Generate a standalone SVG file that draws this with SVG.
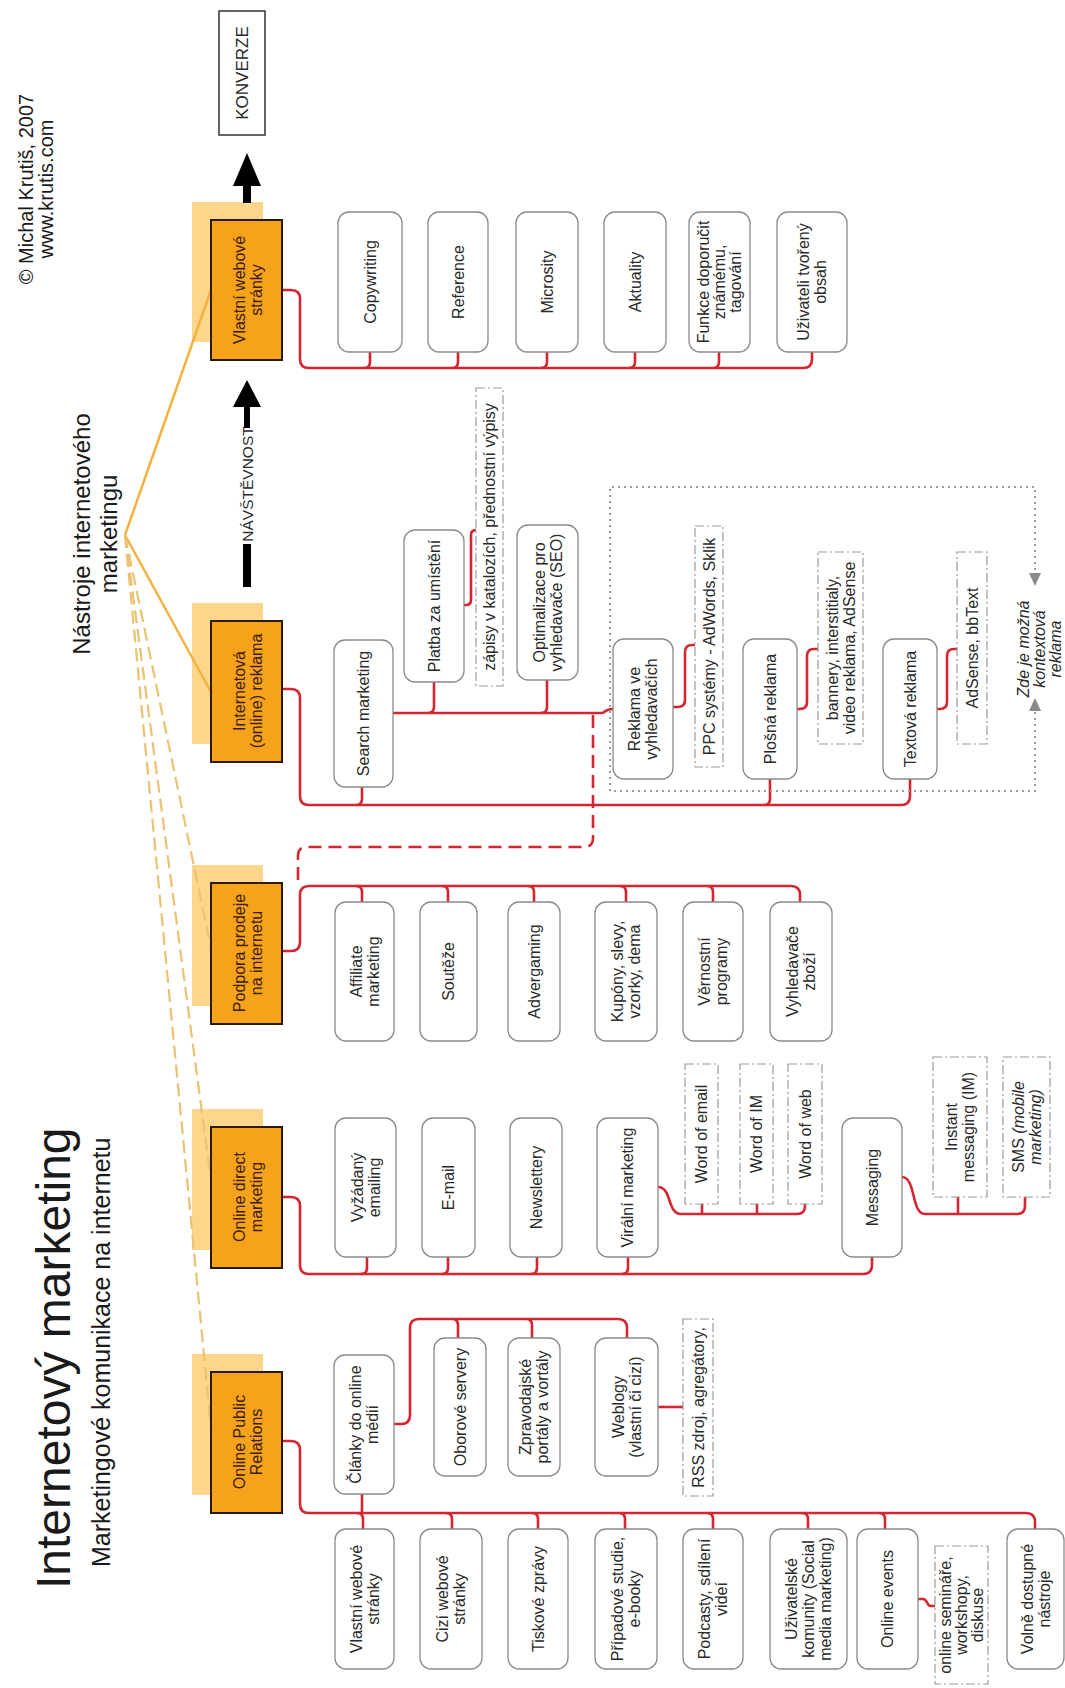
<svg xmlns="http://www.w3.org/2000/svg" width="1065" height="1688" viewBox="0 0 1065 1688">
<style>
text{font-family:"Liberation Sans",Arial,sans-serif}
.t{font-size:16px;fill:#2a2a2a;text-anchor:middle}
.to{font-size:16px;fill:#3a2000;text-anchor:middle}
.ob{fill:#F7A21B;stroke:#2a1808;stroke-width:2}
.sh{fill:#FDD68C}
.cb{fill:#fff;stroke:#8a8a8a;stroke-width:1.3}
.db{fill:#fff;stroke:#9a9a9a;stroke-width:1.2;stroke-dasharray:9 3 2 3}
.red{fill:none;stroke:#D52630;stroke-width:2.6}
.redd{fill:none;stroke:#D52630;stroke-width:2.6;stroke-dasharray:13 7}
.ol{fill:none;stroke:#F2B23E;stroke-width:2.5}
.old{fill:none;stroke:#EBC172;stroke-width:2.2;stroke-dasharray:13 6}
.dot{fill:none;stroke:#9a9a9a;stroke-width:2;stroke-dasharray:2 4}
</style>
<rect width="1065" height="1688" fill="#fff"/>

<g id="titles">
<text transform="translate(70,1589) rotate(-90)" font-size="48" fill="#1a1a1a">Internetový marketing</text>
<text transform="translate(110,1567) rotate(-90)" font-size="25" fill="#1a1a1a">Marketingové komunikace na internetu</text>
<text transform="translate(0,534) rotate(-90)" font-size="24" fill="#1a1a1a" text-anchor="middle"><tspan x="0" y="90">Nástroje internetového</tspan><tspan x="0" y="117">marketingu</tspan></text>
<text transform="translate(0,189) rotate(-90)" font-size="20" fill="#1a1a1a" text-anchor="middle"><tspan x="0" y="33">© Michal Krutiš, 2007</tspan><tspan x="0" y="53">www.krutis.com</tspan></text>
</g>

<g id="shadows">
<rect class="sh" x="192" y="202" width="71" height="140"/>
<rect class="sh" x="192" y="603" width="71" height="141"/>
<rect class="sh" x="192" y="865" width="71" height="141"/>
<rect class="sh" x="192" y="1109" width="71" height="141"/>
<rect class="sh" x="192" y="1354" width="71" height="141"/>
</g>

<g id="connectors">
<line class="ol" x1="125" y1="535" x2="211" y2="290"/>
<line class="ol" x1="125" y1="535" x2="211" y2="692"/>
<line class="old" x1="125" y1="535" x2="211" y2="948"/>
<line class="old" x1="125" y1="535" x2="210" y2="1173"/>
<line class="old" x1="125" y1="535" x2="211" y2="1428"/>

<path class="red" d="M282,290 H291 Q300,290 300,299 V359 Q300,368 309,368 H803 Q812,368 812,359 V352"/>
<path class="red" d="M370,352 V362 Q370,368 364,368 M458,352 V362 Q458,368 452,368 M547,352 V362 Q547,368 541,368 M635,352 V362 Q635,368 629,368 M719,352 V362 Q719,368 713,368"/>

<path class="red" d="M282,689 H291 Q300,689 300,698 V796 Q300,805 309,805 H901 Q910,805 910,796 V779"/>
<path class="red" d="M362,787 V799 Q362,805 356,805 M770,779 V799 Q770,805 764,805"/>
<path class="red" d="M393,713 H601 C606,713 604,709 613,709"/>
<path class="red" d="M434,682 V707 Q434,713 428,713 M547,680 V707 Q547,713 541,713"/>
<path class="red" d="M464,605 H466 Q471,605 471,600 V535 Q471,530 476,530 H478"/>
<path class="red" d="M673,707 H678 Q685,707 685,700 V652 Q685,645 692,645 H695"/>
<path class="red" d="M797,709 H800 Q807,709 807,702 V656 Q807,649 814,649 H818"/>
<path class="red" d="M937,709 H940 Q947,709 947,702 V656 Q947,649 954,649 H957"/>
<path class="redd" d="M298,880 V856 Q298,847 307,847 H584 Q593,847 593,838 V714"/>

<path class="red" d="M282,951 H291 Q300,951 300,942 V895 Q300,886 309,886 H791 Q800,886 800,895 V902"/>
<path class="red" d="M356,886 Q362,886 362,892 V902 M442,886 Q448,886 448,892 V902 M528,886 Q534,886 534,892 V902 M620,886 Q626,886 626,892 V902 M707,886 Q713,886 713,892 V902"/>

<path class="red" d="M282,1197 H291 Q300,1197 300,1206 V1265 Q300,1274 309,1274 H863 Q872,1274 872,1265 V1257"/>
<path class="red" d="M367,1257 V1268 Q367,1274 361,1274 M448,1257 V1268 Q448,1274 442,1274 M537,1257 V1268 Q537,1274 531,1274 M628,1257 V1268 Q628,1274 622,1274"/>
<path class="red" d="M658,1187 C672,1187 667,1214 681,1214 H797 Q805,1214 805,1206 V1204 M702,1204 V1214 M757,1204 V1214"/>
<path class="red" d="M902,1177 C916,1177 911,1214 925,1214 H1017 Q1025,1214 1025,1206 V1197 M958,1197 V1214"/>

<path class="red" d="M282,1441 H291 Q300,1441 300,1450 V1504 Q300,1513 309,1513 H1026 Q1035,1513 1035,1522 V1529"/>
<path class="red" d="M357,1513 Q363,1513 363,1519 V1529 M446,1513 Q452,1513 452,1519 V1529 M532,1513 Q538,1513 538,1519 V1529 M619,1513 Q625,1513 625,1519 V1529 M707,1513 Q713,1513 713,1519 V1529 M802,1513 Q808,1513 808,1519 V1529 M879,1513 Q885,1513 885,1519 V1529"/>
<path class="red" d="M362,1494 V1513"/>
<path class="red" d="M394,1424 H401 Q410,1424 410,1415 V1328 Q410,1319 419,1319 H618 Q627,1319 627,1328 V1338 M452,1319 Q458,1319 458,1325 V1338 M526,1319 Q532,1319 532,1325 V1338"/>
<path class="red" d="M658,1407 H683"/>
<path class="red" d="M918,1599 H923 C928,1599 926,1606 931,1606 H935"/>

<path class="dot" d="M1035,576 V487 H610 V791 H1035 V708"/>
<polygon points="1029,573 1041,573 1035,586" fill="#8a8a8a"/>
<polygon points="1029,711 1041,711 1035,698" fill="#8a8a8a"/>

<rect x="243" y="184" width="8" height="19" fill="#000"/>
<polygon points="233,186 261,186 247,153" fill="#000"/>
<rect x="244" y="404" width="6" height="24" fill="#000"/>
<polygon points="233,407 261,407 247,380" fill="#000"/>
<rect x="243" y="544" width="8" height="43" fill="#000"/>
</g>

<g id="konverze">
<rect x="219" y="11" width="46" height="124" fill="#fff" stroke="#333" stroke-width="1.5"/>
<text class="t" font-size="17" style="font-size:17px" transform="translate(242,73) rotate(-90)" y="6">KONVERZE</text>
</g>
<g id="navstevnost">
<text class="t" style="font-size:15.5px" transform="translate(247,484) rotate(-90)" y="5.5">NÁVŠTĚVNOST</text>
</g>

<g id="vlastni-webove">
<rect class="ob" x="211" y="220" width="71" height="140"/>
<text class="to" transform="translate(247,290) rotate(-90)"><tspan x="0" y="-2.5">Vlastní webové</tspan><tspan x="0" y="14.5">stránky</tspan></text>
</g>
<g id="internetova-reklama">
<rect class="ob" x="211" y="621" width="71" height="141"/>
<text class="to" transform="translate(247,691) rotate(-90)"><tspan x="0" y="-2.5">Internetová</tspan><tspan x="0" y="14.5">(online) reklama</tspan></text>
</g>
<g id="podpora-prodeje">
<rect class="ob" x="211" y="883" width="71" height="141"/>
<text class="to" transform="translate(247,953) rotate(-90)"><tspan x="0" y="-2.5">Podpora prodeje</tspan><tspan x="0" y="14.5">na internetu</tspan></text>
</g>
<g id="online-direct">
<rect class="ob" x="211" y="1127" width="71" height="141"/>
<text class="to" transform="translate(247,1197) rotate(-90)"><tspan x="0" y="-2.5">Online direct</tspan><tspan x="0" y="14.5">marketing</tspan></text>
</g>
<g id="online-pr">
<rect class="ob" x="211" y="1372" width="71" height="141"/>
<text class="to" transform="translate(247,1442) rotate(-90)"><tspan x="0" y="-2.5">Online Public</tspan><tspan x="0" y="14.5">Relations</tspan></text>
</g>

<!-- Vlastní webové stránky children -->
<g id="copywriting"><rect class="cb" x="338" y="212" width="64" height="140" rx="11"/><text class="t" transform="translate(370,282) rotate(-90)" y="5.5">Copywriting</text></g>
<g id="reference"><rect class="cb" x="428" y="212" width="60" height="140" rx="11"/><text class="t" transform="translate(458,282) rotate(-90)" y="5.5">Reference</text></g>
<g id="microsity"><rect class="cb" x="516" y="212" width="62" height="140" rx="11"/><text class="t" transform="translate(547,282) rotate(-90)" y="5.5">Microsity</text></g>
<g id="aktuality"><rect class="cb" x="604" y="212" width="62" height="140" rx="11"/><text class="t" transform="translate(635,282) rotate(-90)" y="5.5">Aktuality</text></g>
<g id="funkce"><rect class="cb" x="689" y="212" width="61" height="140" rx="11"/><text class="t" transform="translate(719.5,282) rotate(-90)"><tspan x="0" y="-10.5">Funkce doporučit</tspan><tspan x="0" y="5.5">známému,</tspan><tspan x="0" y="21.5">tagování</tspan></text></g>
<g id="uzivateli"><rect class="cb" x="777" y="212" width="70" height="140" rx="11"/><text class="t" transform="translate(812,282) rotate(-90)"><tspan x="0" y="-3">Uživateli tvořený</tspan><tspan x="0" y="14">obsah</tspan></text></g>

<!-- Internetová reklama children -->
<g id="search"><rect class="cb" x="334" y="640" width="59" height="147" rx="11"/><text class="t" transform="translate(363.5,713.5) rotate(-90)" y="5.5">Search marketing</text></g>
<g id="platba"><rect class="cb" x="404" y="530" width="60" height="152" rx="11"/><text class="t" transform="translate(434,606) rotate(-90)" y="5.5">Platba za umístění</text></g>
<g id="zapisy"><rect class="db" x="476" y="388" width="27" height="298"/><text class="t" transform="translate(489.5,537) rotate(-90)" y="5.5">zápisy v katalozích, přednostní výpisy</text></g>
<g id="seo"><rect class="cb" x="517" y="525" width="61" height="155" rx="11"/><text class="t" transform="translate(547.5,602.5) rotate(-90)"><tspan x="0" y="-3">Optimalizace pro</tspan><tspan x="0" y="14">vyhledavače (SEO)</tspan></text></g>
<g id="reklama-vyhledavace"><rect class="cb" x="613" y="639" width="60" height="140" rx="11"/><text class="t" transform="translate(643,709) rotate(-90)"><tspan x="0" y="-3">Reklama ve</tspan><tspan x="0" y="14">vyhledavačích</tspan></text></g>
<g id="ppc"><rect class="db" x="695" y="526" width="28" height="241"/><text class="t" transform="translate(709,646.5) rotate(-90)" y="5.5">PPC systémy - AdWords, Sklik</text></g>
<g id="plosna"><rect class="cb" x="743" y="639" width="54" height="140" rx="11"/><text class="t" transform="translate(770,709) rotate(-90)" y="5.5">Plošná reklama</text></g>
<g id="bannery"><rect class="db" x="818" y="552" width="45" height="192"/><text class="t" transform="translate(840.5,648) rotate(-90)"><tspan x="0" y="-3">bannery, interstitialy,</tspan><tspan x="0" y="14">video reklama, AdSense</tspan></text></g>
<g id="textova"><rect class="cb" x="883" y="639" width="54" height="140" rx="11"/><text class="t" transform="translate(910,709) rotate(-90)" y="5.5">Textová reklama</text></g>
<g id="adsense"><rect class="db" x="957" y="552" width="30" height="192"/><text class="t" transform="translate(972,648) rotate(-90)" y="5.5">AdSense, bbText</text></g>
<g id="kontextova"><text class="t" font-style="italic" transform="translate(1038,649) rotate(-90)"><tspan x="0" y="-9">Zde je možná</tspan><tspan x="0" y="7">kontextová</tspan><tspan x="0" y="23">reklama</tspan></text></g>

<!-- Podpora prodeje children -->
<g id="affiliate"><rect class="cb" x="335" y="902" width="59" height="139" rx="11"/><text class="t" transform="translate(364.5,971.5) rotate(-90)"><tspan x="0" y="-3">Affiliate</tspan><tspan x="0" y="14">marketing</tspan></text></g>
<g id="souteze"><rect class="cb" x="420" y="902" width="57" height="139" rx="11"/><text class="t" transform="translate(448.5,971.5) rotate(-90)" y="5.5">Soutěže</text></g>
<g id="advergaming"><rect class="cb" x="508" y="902" width="52" height="139" rx="11"/><text class="t" transform="translate(534,971.5) rotate(-90)" y="5.5">Advergaming</text></g>
<g id="kupony"><rect class="cb" x="595" y="902" width="62" height="139" rx="11"/><text class="t" transform="translate(626,971.5) rotate(-90)"><tspan x="0" y="-3">Kupóny, slevy,</tspan><tspan x="0" y="14">vzorky, dema</tspan></text></g>
<g id="vernostni"><rect class="cb" x="683" y="902" width="60" height="139" rx="11"/><text class="t" transform="translate(713,971.5) rotate(-90)"><tspan x="0" y="-3">Věrnostní</tspan><tspan x="0" y="14">programy</tspan></text></g>
<g id="vyhledavace-zbozi"><rect class="cb" x="770" y="902" width="62" height="139" rx="11"/><text class="t" transform="translate(801,971.5) rotate(-90)"><tspan x="0" y="-3">Vyhledavače</tspan><tspan x="0" y="14">zboží</tspan></text></g>

<!-- Online direct marketing children -->
<g id="vyzadany"><rect class="cb" x="335" y="1118" width="61" height="139" rx="11"/><text class="t" transform="translate(365.5,1187.5) rotate(-90)"><tspan x="0" y="-3">Vyžádaný</tspan><tspan x="0" y="14">emailing</tspan></text></g>
<g id="email"><rect class="cb" x="422" y="1118" width="53" height="139" rx="11"/><text class="t" transform="translate(448.5,1187.5) rotate(-90)" y="5.5">E-mail</text></g>
<g id="newslettery"><rect class="cb" x="510" y="1118" width="52" height="139" rx="11"/><text class="t" transform="translate(536,1187.5) rotate(-90)" y="5.5">Newslettery</text></g>
<g id="viralni"><rect class="cb" x="597" y="1118" width="61" height="139" rx="11"/><text class="t" transform="translate(627.5,1187.5) rotate(-90)" y="5.5">Virální marketing</text></g>
<g id="word-email"><rect class="db" x="685" y="1064" width="33" height="140"/><text class="t" transform="translate(701.5,1134) rotate(-90)" y="5.5">Word of email</text></g>
<g id="word-im"><rect class="db" x="740" y="1064" width="33" height="140"/><text class="t" transform="translate(756.5,1134) rotate(-90)" y="5.5">Word of IM</text></g>
<g id="word-web"><rect class="db" x="788" y="1064" width="34" height="140"/><text class="t" transform="translate(805,1134) rotate(-90)" y="5.5">Word of web</text></g>
<g id="messaging"><rect class="cb" x="842" y="1118" width="60" height="139" rx="11"/><text class="t" transform="translate(872,1187.5) rotate(-90)" y="5.5">Messaging</text></g>
<g id="instant"><rect class="db" x="933" y="1057" width="54" height="140"/><text class="t" transform="translate(960,1127) rotate(-90)"><tspan x="0" y="-3">Instant</tspan><tspan x="0" y="14">messaging (IM)</tspan></text></g>
<g id="sms"><rect class="db" x="1003" y="1057" width="47" height="140"/><text class="t" transform="translate(1026.5,1127) rotate(-90)"><tspan x="0" y="-3">SMS <tspan font-style="italic">(mobile</tspan></tspan><tspan x="0" y="14" font-style="italic">marketing)</tspan></text></g>

<!-- Online PR children -->
<g id="clanky"><rect class="cb" x="334" y="1355" width="60" height="139" rx="11"/><text class="t" transform="translate(364,1424.5) rotate(-90)"><tspan x="0" y="-3">Články do online</tspan><tspan x="0" y="14">médií</tspan></text></g>
<g id="oborove"><rect class="cb" x="434" y="1338" width="52" height="138" rx="11"/><text class="t" transform="translate(460,1407) rotate(-90)" y="5.5">Oborové servery</text></g>
<g id="zpravodajske"><rect class="cb" x="508" y="1338" width="52" height="138" rx="11"/><text class="t" transform="translate(534,1407) rotate(-90)"><tspan x="0" y="-3">Zpravodajské</tspan><tspan x="0" y="14">portály a vortály</tspan></text></g>
<g id="weblogy"><rect class="cb" x="595" y="1338" width="63" height="138" rx="11"/><text class="t" transform="translate(626.5,1407) rotate(-90)"><tspan x="0" y="-3">Weblogy</tspan><tspan x="0" y="14">(vlastní či cizí)</tspan></text></g>
<g id="rss"><rect class="db" x="683" y="1319" width="30" height="177"/><text class="t" transform="translate(698,1407.5) rotate(-90)" y="5.5">RSS zdroj, agregátory,</text></g>
<g id="vlastni-pr"><rect class="cb" x="335" y="1529" width="59" height="140" rx="11"/><text class="t" transform="translate(364.5,1599) rotate(-90)"><tspan x="0" y="-3">Vlastní webové</tspan><tspan x="0" y="14">stránky</tspan></text></g>
<g id="cizi"><rect class="cb" x="420" y="1529" width="62" height="140" rx="11"/><text class="t" transform="translate(451,1599) rotate(-90)"><tspan x="0" y="-3">Cizí webové</tspan><tspan x="0" y="14">stránky</tspan></text></g>
<g id="tiskove"><rect class="cb" x="508" y="1529" width="60" height="140" rx="11"/><text class="t" transform="translate(538,1599) rotate(-90)" y="5.5">Tiskové zprávy</text></g>
<g id="pripadove"><rect class="cb" x="595" y="1529" width="62" height="140" rx="11"/><text class="t" transform="translate(626,1599) rotate(-90)"><tspan x="0" y="-3">Případové studie,</tspan><tspan x="0" y="14">e-booky</tspan></text></g>
<g id="podcasty"><rect class="cb" x="683" y="1529" width="60" height="140" rx="11"/><text class="t" transform="translate(713,1599) rotate(-90)"><tspan x="0" y="-3">Podcasty, sdílení</tspan><tspan x="0" y="14">videí</tspan></text></g>
<g id="komunity"><rect class="cb" x="770" y="1529" width="77" height="140" rx="11"/><text class="t" transform="translate(808.5,1599) rotate(-90)"><tspan x="0" y="-11.5">Uživatelské</tspan><tspan x="0" y="5.5">komunity (Social</tspan><tspan x="0" y="22.5">media marketing)</tspan></text></g>
<g id="events"><rect class="cb" x="857" y="1529" width="61" height="140" rx="11"/><text class="t" transform="translate(887.5,1599) rotate(-90)" y="5.5">Online events</text></g>
<g id="seminare"><rect class="db" x="935" y="1546" width="53" height="138"/><text class="t" transform="translate(961.5,1615) rotate(-90)"><tspan x="0" y="-10.5">online semináře,</tspan><tspan x="0" y="5.5">workshopy,</tspan><tspan x="0" y="21.5">diskuse</tspan></text></g>
<g id="volne"><rect class="cb" x="1007" y="1529" width="57" height="140" rx="11"/><text class="t" transform="translate(1035.5,1599) rotate(-90)"><tspan x="0" y="-3">Volně dostupné</tspan><tspan x="0" y="14">nástroje</tspan></text></g>
</svg>
